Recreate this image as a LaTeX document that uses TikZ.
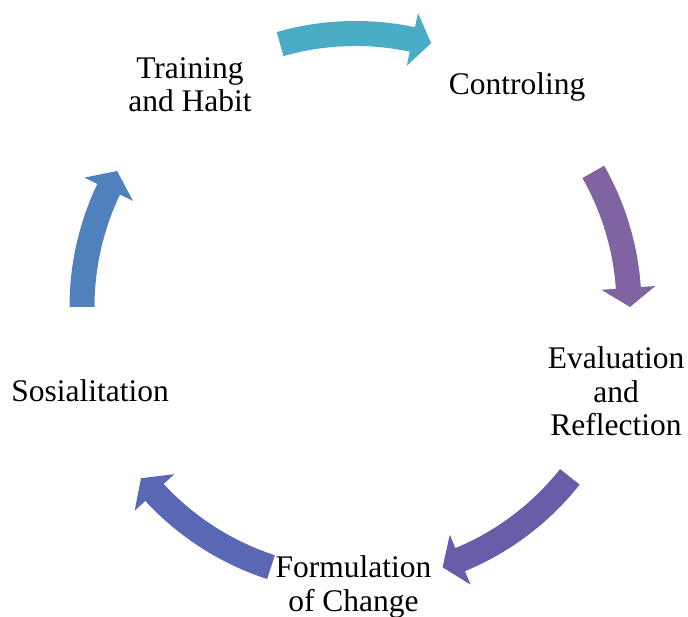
\documentclass[tikz,border=0pt]{standalone}
\usepackage{fontspec}
\setmainfont{Liberation Serif}
\newfontfamily\cyclefont{Liberation Serif}
\begin{document}
\begin{tikzpicture}[x=1pt,y=1pt,
  label text/.style={font=\cyclefont\fontsize{31.5}{33.5}\selectfont, align=center, inner sep=0pt, text=black},
]
\definecolor{arrTeal}{HTML}{4BACC6}
\definecolor{arrPurple}{HTML}{8064A2}
\definecolor{arrViolet}{HTML}{6A5CA8}
\definecolor{arrIndigo}{HTML}{5868B2}
\definecolor{arrBlue}{HTML}{4F81BD}
\useasboundingbox (0,0) rectangle (688,617);
\coordinate (hub) at (355.5,310);

% curved block arrow on the cycle ring:
% #1 colour, #2 tail angle, #3 head base angle, #4 tip angle
\newcommand{\cyclearrow}[4]{%
  \begin{scope}[shift={(hub)}]
    \fill[#1] (#2:286) arc[start angle=#2, end angle=#3, radius=286]
      -- (#3:300.5) -- (#4:274.5) -- (#3:246.5) -- (#3:261)
      arc[start angle=#3, end angle=#2, radius=261] -- cycle;
  \end{scope}}

\cyclearrow{arrTeal}{106}{78}{74}
\cyclearrow{arrPurple}{29.6}{4}{0}
\cyclearrow{arrViolet}{-38.4}{-67.5}{-71.5}
\cyclearrow{arrIndigo}{-108}{-137.3}{-141.4}
\cyclearrow{arrBlue}{180}{154.5}{150.3}

\node[label text] (habit) at (190,532.4) {Training\\and Habit};
\node[label text] (control) at (517,530.3) {Controling};
\node[label text] (evaluate) at (616,225.7) {Evaluation\\and\\Reflection};
\node[label text] (change) at (353.5,29.8) {Formulation\\of Change};
\node[label text] (social) at (90,225.9) {Sosialitation};
\end{tikzpicture}
\end{document}
